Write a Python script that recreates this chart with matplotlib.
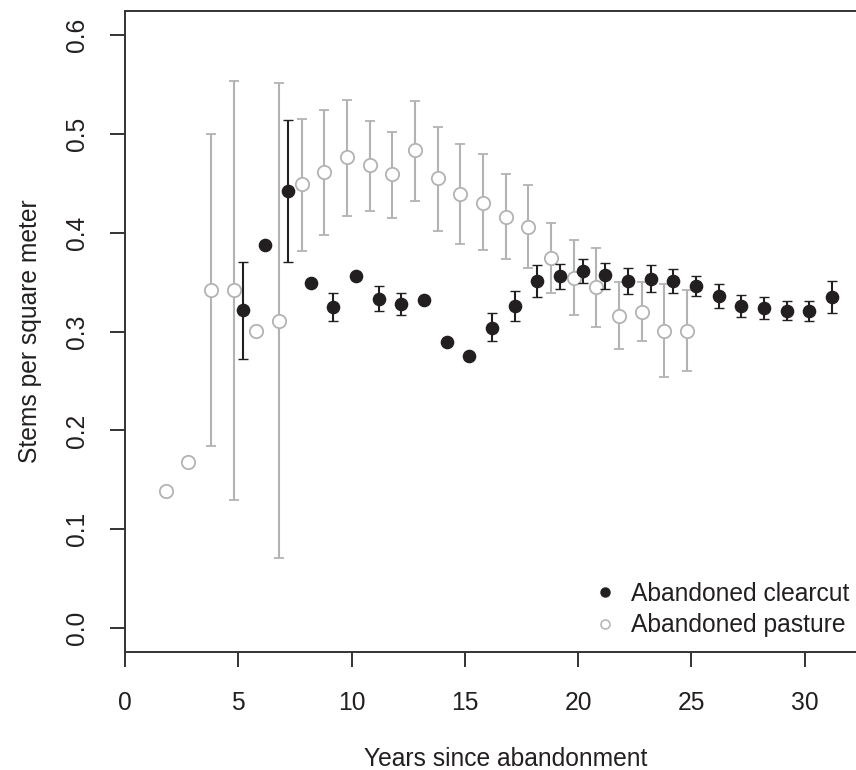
import numpy as np
import matplotlib
matplotlib.use("Agg")
import matplotlib.pyplot as plt
from matplotlib.lines import Line2D

nan = np.nan

# ── Data ──────────────────────────────────────────────────────────────────────
pasture_years = [1.8, 2.8, 3.8, 4.8, 5.8, 6.8, 7.8, 8.8, 9.8, 10.8, 11.8, 12.8,
                 13.8, 14.8, 15.8, 16.8, 17.8, 18.8, 19.8, 20.8, 21.8, 22.8, 23.8, 24.8]
pasture_mean = [0.139, 0.168, 0.342, 0.342, 0.301, 0.311, 0.449, 0.461, 0.476, 0.468,
                0.459, 0.483, 0.455, 0.439, 0.430, 0.416, 0.406, 0.374, 0.354, 0.345,
                0.316, 0.320, 0.301, 0.301]
pasture_lo = [nan, nan, 0.184, 0.130, nan, 0.071, 0.381, 0.398, 0.417, 0.422,
              0.415, 0.432, 0.402, 0.388, 0.382, 0.373, 0.364, 0.339, 0.317, 0.305,
              0.282, 0.290, 0.254, 0.260]
pasture_hi = [nan, nan, 0.500, 0.553, nan, 0.551, 0.515, 0.524, 0.534, 0.513,
              0.502, 0.533, 0.507, 0.490, 0.479, 0.459, 0.448, 0.410, 0.392, 0.384,
              0.350, 0.350, 0.348, 0.342]

clearcut_years = [5.2, 6.2, 7.2, 8.2, 9.2, 10.2, 11.2, 12.2, 13.2, 14.2, 15.2, 16.2,
                  17.2, 18.2, 19.2, 20.2, 21.2, 22.2, 23.2, 24.2, 25.2, 26.2, 27.2,
                  28.2, 29.2, 30.2, 31.2]
clearcut_mean = [0.322, 0.387, 0.442, 0.349, 0.325, 0.356, 0.333, 0.328, 0.332, 0.289,
                 0.275, 0.304, 0.326, 0.351, 0.356, 0.361, 0.357, 0.351, 0.353, 0.351,
                 0.346, 0.336, 0.326, 0.324, 0.321, 0.321, 0.335]
clearcut_lo = [0.272, nan, 0.370, nan, 0.311, nan, 0.321, 0.317, nan, nan,
               nan, 0.290, 0.311, 0.335, 0.343, 0.349, 0.343, 0.338, 0.340, 0.339,
               0.336, 0.324, 0.315, 0.313, 0.312, 0.311, 0.319]
clearcut_hi = [0.370, nan, 0.514, nan, 0.339, nan, 0.346, 0.339, nan, nan,
               nan, 0.319, 0.341, 0.367, 0.368, 0.373, 0.369, 0.364, 0.367, 0.363,
               0.356, 0.348, 0.337, 0.335, 0.331, 0.331, 0.351]

x_ticks = [0, 5, 10, 15, 20, 25, 30]
y_ticks = [0.0, 0.1, 0.2, 0.3, 0.4, 0.5, 0.6]
y_ticklabels = ["0.0", "0.1", "0.2", "0.3", "0.4", "0.5", "0.6"]

# ── Style ─────────────────────────────────────────────────────────────────────
plt.rcParams["font.family"] = ["Liberation Sans", "DejaVu Sans"]
INK = "#231f20"
GREY = "#b3b3b3"
FS = 17.7


def asym_err(mean, lo, hi):
    m = np.asarray(mean, float)
    return np.vstack([m - np.asarray(lo, float), np.asarray(hi, float) - m])


fig = plt.figure(figsize=(8.56, 7.70), dpi=100)
# the original box runs past the right edge of the picture
ax = fig.add_axes([125 / 856, 118 / 770, 762 / 856, 641 / 770])

ax.errorbar(pasture_years, pasture_mean,
            yerr=asym_err(pasture_mean, pasture_lo, pasture_hi),
            fmt="o", ms=9.6, mfc="white", mec=GREY, mew=1.3,
            ecolor=GREY, elinewidth=1.5, capsize=3.8, capthick=1.5, zorder=2)
ax.errorbar(clearcut_years, clearcut_mean,
            yerr=asym_err(clearcut_mean, clearcut_lo, clearcut_hi),
            fmt="o", ms=8.8, mfc=INK, mec=INK, mew=1,
            ecolor=INK, elinewidth=1.5, capsize=3.8, capthick=1.5, zorder=3)

ax.set_xlim(0, 33.63)
ax.set_ylim(-0.024, 0.624)
ax.set_xticks(x_ticks)
ax.set_yticks(y_ticks)
ax.set_yticklabels(y_ticklabels, rotation=90, va="center")

for s in ax.spines.values():
    s.set_linewidth(1.4)
    s.set_color("#333333")

ax.tick_params(axis="both", direction="out", length=10.8, width=1.4,
               color="#333333", labelsize=FS, labelcolor=INK)
ax.tick_params(axis="x", pad=17)
ax.tick_params(axis="y", pad=15)

ax.set_xlabel("Years since abandonment", fontsize=FS, color=INK, labelpad=23)
ax.set_ylabel("Stems per square meter", fontsize=FS, color=INK, labelpad=17)

handles = [
    Line2D([], [], ls="none", marker="o", ms=6.5, mfc=INK, mec=INK),
    Line2D([], [], ls="none", marker="o", ms=6.5, mfc="white", mec=GREY, mew=1.1),
]
fig.legend(handles, ["Abandoned clearcut", "Abandoned pasture"],
           loc="upper left", bbox_to_anchor=(593 / 856, 1 - 582 / 770),
           frameon=False, fontsize=FS, labelcolor=INK, borderpad=0,
           borderaxespad=0, handlelength=1.0, handletextpad=0.55,
           labelspacing=0.3)

fig.savefig("out.png", dpi=100)
